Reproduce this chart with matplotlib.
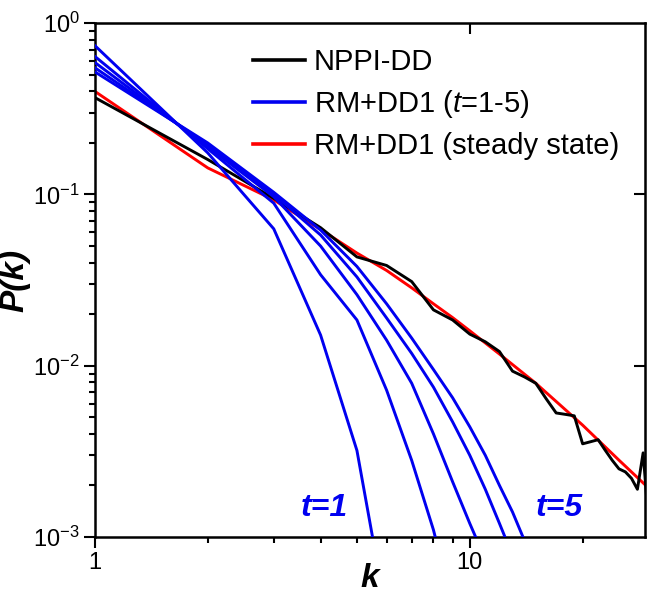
import matplotlib
matplotlib.use("Agg")
import matplotlib.pyplot as plt
from matplotlib.ticker import LogLocator, NullLocator, NullFormatter, FixedLocator, FixedFormatter

plt.rcParams['font.family'] = ['Liberation Sans', 'DejaVu Sans']
plt.rcParams['mathtext.fontset'] = 'custom'
plt.rcParams['mathtext.rm'] = 'Liberation Sans'
plt.rcParams['mathtext.it'] = 'Liberation Sans:italic'
plt.rcParams['mathtext.bf'] = 'Liberation Sans:bold'
plt.rcParams['axes.unicode_minus'] = False

# NPPI-DD (black)
k_nppi = list(range(1, 31))
p_nppi = [0.368, 0.16, 0.095, 0.064, 0.0432, 0.0385, 0.031, 0.0212, 0.0185, 0.0153,
          0.0138, 0.0121, 0.0093, 0.0086, 0.0079, 0.0064, 0.0053, 0.0052, 0.0051, 0.0035,
          0.0036, 0.0037, 0.0032, 0.0028, 0.0025, 0.0024, 0.0022, 0.0019, 0.0031, 0.0012]

# RM+DD1 steady state (red)
k_ss = [1, 2, 3, 4, 5, 6, 7, 8, 9, 10, 12, 15, 20, 25, 30]
p_ss = [0.40, 0.143, 0.093, 0.0625, 0.0455, 0.036, 0.0285, 0.0230, 0.0191, 0.0160,
        0.0117, 0.0079, 0.0045, 0.00281, 0.00193]

# RM+DD1 t=1..5 (blue)
k_t1 = [1, 2, 3, 4, 5, 6]
p_t1 = [0.74, 0.175, 0.063, 0.0151, 0.0032, 0.00035]
k_t2 = [1, 2, 3, 4, 5, 6, 7, 8, 9]
p_t2 = [0.64, 0.185, 0.089, 0.034, 0.0185, 0.0072, 0.0028, 0.0011, 0.0004]
k_t3 = [1, 2, 3, 4, 5, 6, 7, 8, 9, 10, 11]
p_t3 = [0.59, 0.19, 0.097, 0.05, 0.026, 0.0141, 0.0079, 0.0040, 0.0021, 0.0012, 0.00074]
k_t4 = [1, 2, 3, 4, 5, 6, 7, 8, 9, 10, 11, 12, 13]
p_t4 = [0.55, 0.195, 0.10, 0.058, 0.033, 0.019, 0.0118, 0.0075, 0.0047, 0.0030, 0.0019,
        0.0012, 0.00078]
k_t5 = [1, 2, 3, 4, 5, 6, 7, 8, 9, 10, 11, 12, 13, 14, 15]
p_t5 = [0.52, 0.20, 0.103, 0.062, 0.038, 0.023, 0.0145, 0.0095, 0.0065, 0.0044, 0.0030,
        0.0020, 0.0014, 0.00095, 0.0006]

blue = '#0000f0'

fig = plt.figure(figsize=(6.5, 5.96), dpi=100)
ax = fig.add_axes([0.146, 0.099, 0.846, 0.862])

ax.plot(k_nppi, p_nppi, color='black', lw=2.1, label='NPPI-DD', zorder=3)
blue_k = [k_t1, k_t2, k_t3, k_t4, k_t5]
blue_p = [p_t1, p_t2, p_t3, p_t4, p_t5]
for i, (kk, pp) in enumerate(zip(blue_k, blue_p)):
    ax.plot(kk, pp, color=blue, lw=2.1, label='RM+DD1 ($\\mathit{t}$=1-5)' if i == 0 else None, zorder=4)
ax.plot(k_ss, p_ss, color='red', lw=2.1, label='RM+DD1 (steady state)', zorder=2)

ax.set_xscale('log')
ax.set_yscale('log')
ax.set_xlim(1, 29.3)
ax.set_ylim(1e-3, 1)

ax.xaxis.set_major_locator(FixedLocator([1, 10]))
ax.xaxis.set_major_formatter(FixedFormatter(['1', '10']))
ax.xaxis.set_minor_locator(LogLocator(base=10, subs=range(2, 10)))
ax.xaxis.set_minor_formatter(NullFormatter())
ax.yaxis.set_major_locator(LogLocator(base=10, numticks=10))
ax.yaxis.set_minor_locator(LogLocator(base=10, subs=range(2, 10), numticks=10))
ax.yaxis.set_minor_formatter(NullFormatter())

ax.tick_params(which='major', direction='out', length=8, width=1.5, labelsize=17, pad=3)
ax.tick_params(which='minor', direction='out', length=4, width=1.5)
for s in ax.spines.values():
    s.set_linewidth(1.8)

# inward major ticks on top and right
top = ax.secondary_xaxis('top')
top.set_xticks([10])
top.xaxis.set_minor_locator(NullLocator())
top.tick_params(which='major', direction='in', length=8, width=1.5, labeltop=False)
right = ax.secondary_yaxis('right')
right.set_yticks([0.1, 0.01])
right.yaxis.set_minor_locator(NullLocator())
right.tick_params(which='major', direction='in', length=8, width=1.5, labelright=False)

ax.set_xlabel('k', fontsize=24, fontweight='bold', style='italic', labelpad=-8)
ax.set_ylabel('P(k)', fontsize=24, fontweight='bold', style='italic', labelpad=2)

ax.text(4.1, 1.2e-3, 't=1', color=blue, fontsize=23, fontweight='bold', style='italic',
        ha='center', va='bottom')
ax.text(17.3, 1.2e-3, 't=5', color=blue, fontsize=23, fontweight='bold', style='italic',
        ha='center', va='bottom')

leg = ax.legend(loc='upper right', frameon=False, fontsize=21, handlelength=1.8,
                handletextpad=0.3, labelspacing=0.4, bbox_to_anchor=(0.985, 0.985),
                borderaxespad=0.2)
for line in leg.get_lines():
    line.set_linewidth(2.6)

fig.savefig('out.png', dpi=100)
